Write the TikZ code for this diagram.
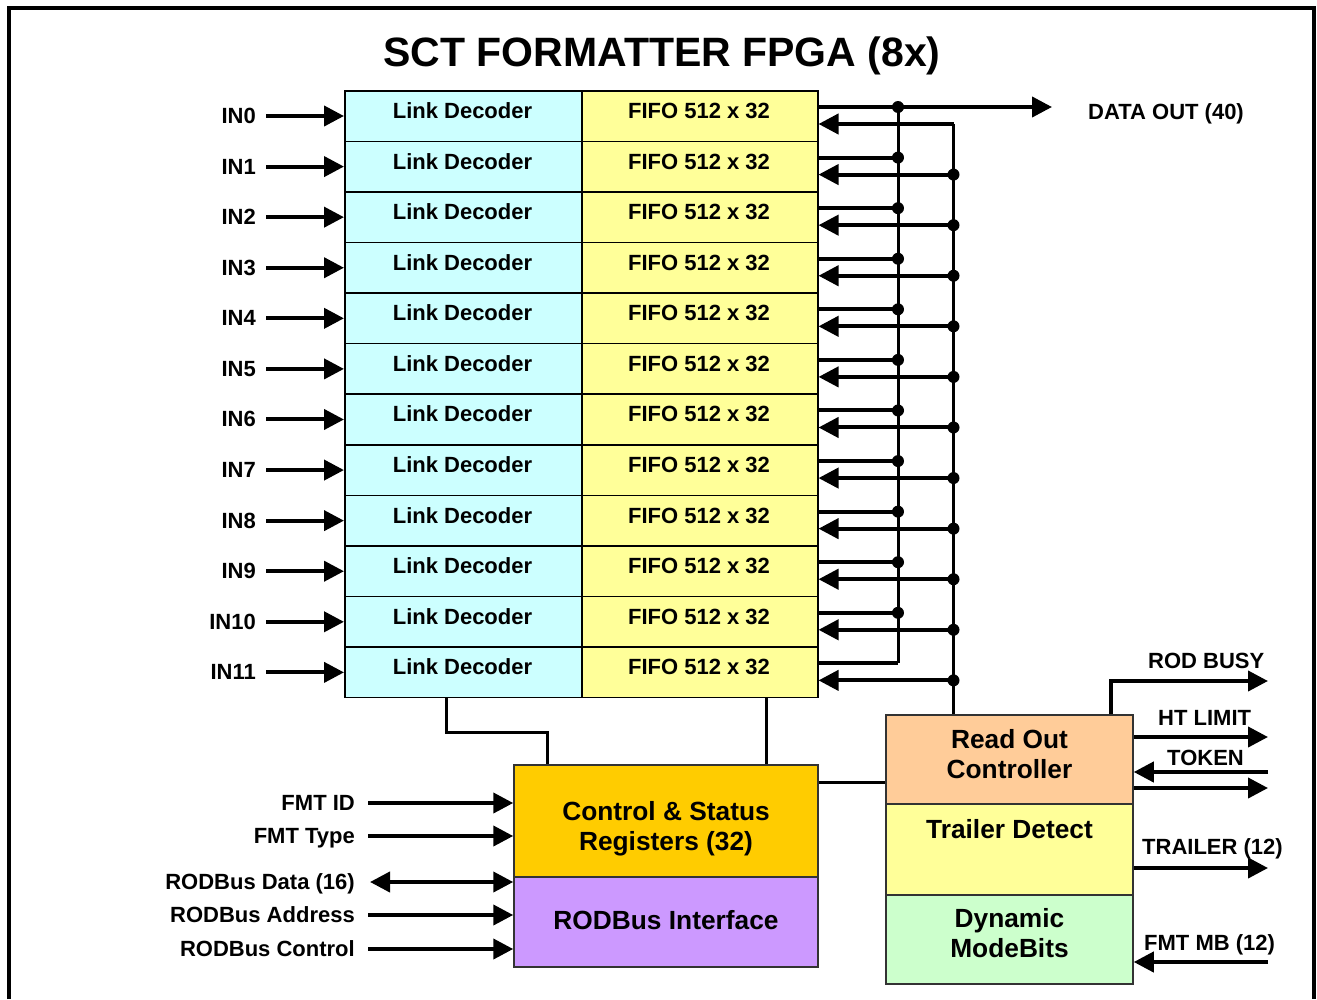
\documentclass[tikz,border=0pt]{standalone}
\usepackage{fontspec}
\setmainfont{Liberation Sans}
\usetikzlibrary{arrows.meta,calc}
\definecolor{ldcol}{HTML}{CCFFFF}
\definecolor{ffcol}{HTML}{FFFF99}
\definecolor{csrcol}{HTML}{FFCC00}
\definecolor{rbcol}{HTML}{CC99FF}
\definecolor{roccol}{HTML}{FFCC99}
\definecolor{trcol}{HTML}{FFFF99}
\definecolor{mbcol}{HTML}{CCFFCC}
\begin{document}
\begin{tikzpicture}[x=1pt,y=1pt,
  lbl/.style={font=\fontsize{22}{26}\selectfont\bfseries, inner sep=0},
  big/.style={font=\fontsize{26.3}{30}\selectfont\bfseries, inner sep=0},
  cell/.style={draw=black, line width=1.5pt, minimum height=50.58pt, inner sep=0, anchor=north west},
  blk/.style={draw=black!80, line width=1.5pt, inner sep=0},
  arr/.style={line width=4pt, -{Triangle[length=20pt,width=20pt]}},
  wire/.style={line width=3pt},
  bus/.style={line width=3pt}]
\useasboundingbox (0,0) rectangle (1317,-999);
% outer frame
\draw[line width=4pt] (9,-999) -- (9,-8) -- (1314,-8) -- (1314,-999);
% title
\node[font=\fontsize{41}{48}\selectfont\bfseries, inner sep=0] (title) at (662,-56) {SCT FORMATTER FPGA (8x)};
% rows
\foreach \i in {0,...,11} {
  \pgfmathsetmacro\yt{-90-50.58*\i}
  \pgfmathsetmacro\ya{-116-50.58*\i}
  \pgfmathsetmacro\yo{-107-50.58*\i}
  \pgfmathsetmacro\yr{-124-50.58*\i}
  \node[cell, fill=ldcol, minimum width=237pt] (ld\i) at (344,\yt) {};
  \node[cell, fill=ffcol, minimum width=236pt] (ff\i) at (581,\yt) {};
  \node[lbl, anchor=base] (ldt\i) at (462.5,\yt-28.5) {Link Decoder};
  \node[lbl, anchor=base] (fft\i) at (699,\yt-28.5) {FIFO 512 x 32};
  \node[lbl, anchor=base east] (in\i) at (256,\ya-7.5) {IN\i};
  \coordinate (ia\i) at (266,\ya);
  \draw[arr] (ia\i) -- (ld\i.west |- ia\i);
  \coordinate (o\i) at (898,\yo);
  \coordinate (r\i) at (953.5,\yr);
  \draw[wire, line width=4pt] (ff\i.east |- o\i) -- (o\i);
  \draw[arr] (r\i) -- (ff\i.east |- r\i);
}
% buses
\draw[bus] (o0) -- (o11);
\foreach \i in {0,...,10} { \fill (o\i) circle (6pt); }
\foreach \i in {1,...,11} { \fill (r\i) circle (6pt); }
% data out
\coordinate (dout) at (1052,-107);
\draw[arr] (o0) -- (dout);
\node[lbl, anchor=base west] (doutl) at (1088,-119) {DATA OUT (40)};
% control & status
\node[blk, fill=csrcol, minimum width=304pt, minimum height=112pt] (csr) at (666,-821) {};
\node[big, anchor=base] (csrt1) at (666,-820) {Control \& Status};
\node[big, anchor=base] (csrt2) at (666,-850) {Registers (32)};
\node[blk, fill=rbcol, minimum width=304pt, minimum height=90pt] (rb) at (666,-922) {};
\node[big, anchor=base] (rbt) at (666,-929) {RODBus Interface};
% read out controller column
\node[blk, fill=roccol, minimum width=247pt, minimum height=89pt] (roc) at (1009.5,-759.5) {};
\node[big, anchor=base] (roct1) at (1009.5,-748) {Read Out};
\node[big, anchor=base] (roct2) at (1009.5,-778) {Controller};
\node[blk, fill=trcol, minimum width=247pt, minimum height=91pt] (tr) at (1009.5,-849.5) {};
\node[big, anchor=base] (trt) at (1009.5,-838) {Trailer Detect};
\node[blk, fill=mbcol, minimum width=247pt, minimum height=89pt] (mb) at (1009.5,-939.5) {};
\node[big, anchor=base] (mbt1) at (1009.5,-927) {Dynamic};
\node[big, anchor=base] (mbt2) at (1009.5,-957) {ModeBits};
% bus to ROC
\draw[bus] (r0) -- (roc.north -| r0);
% LD / FIFO to CSR
\draw[wire] ([xshift=-16.5pt]ld11.south) -- ++(0,-34) -| ([xshift=-119pt]csr.north);
\draw[wire] ([xshift=67pt]ff11.south) -- ([xshift=67pt]ff11.south |- csr.north);
% CSR to ROC
\coordinate (cr) at (850,-782);
\draw[wire] (csr.east |- cr) -- (roc.west |- cr);
% left inputs
\foreach \n/\t/\y in {fid/FMT ID/803, fty/FMT Type/836, rba/RODBus Address/915, rbc/RODBus Control/949} {
  \node[lbl, anchor=base east] (\n) at (355,-\y-7) {\t};
  \coordinate (\n a) at (368,-\y);
  \draw[arr] (\n a) -- (csr.west |- \n a);
}
\node[lbl, anchor=base east] (rbd) at (355,-889) {RODBus Data (16)};
\coordinate (rbda) at (370,-882);
\draw[line width=4pt, {Triangle[length=20pt,width=20pt]}-{Triangle[length=20pt,width=20pt]}] (rbda) -- (csr.west |- rbda);
% right outputs
\coordinate (busy) at (1268,-681);
\draw[arr] ([xshift=101.5pt]roc.north) |- (busy);
\node[lbl, anchor=base west] (busyl) at (1148,-668) {ROD BUSY};
\coordinate (htl) at (1268,-737);
\draw[arr] (roc.east |- htl) -- (htl);
\node[lbl, anchor=base west] (htll) at (1158,-725) {HT LIMIT};
\coordinate (tok) at (1268,-772);
\draw[arr] (tok) -- (roc.east |- tok);
\node[lbl, anchor=base west] (tokl) at (1167,-765) {TOKEN};
\coordinate (tok2) at (1268,-788);
\draw[arr] (roc.east |- tok2) -- (tok2);
\coordinate (trl) at (1268,-868);
\draw[arr] (tr.east |- trl) -- (trl);
\node[lbl, anchor=base west] (trll) at (1142,-854) {TRAILER (12)};
\coordinate (fmb) at (1268,-962);
\draw[arr] (fmb) -- (mb.east |- fmb);
\node[lbl, anchor=base west] (fmbl) at (1144,-950) {FMT MB (12)};
\end{tikzpicture}
\end{document}
